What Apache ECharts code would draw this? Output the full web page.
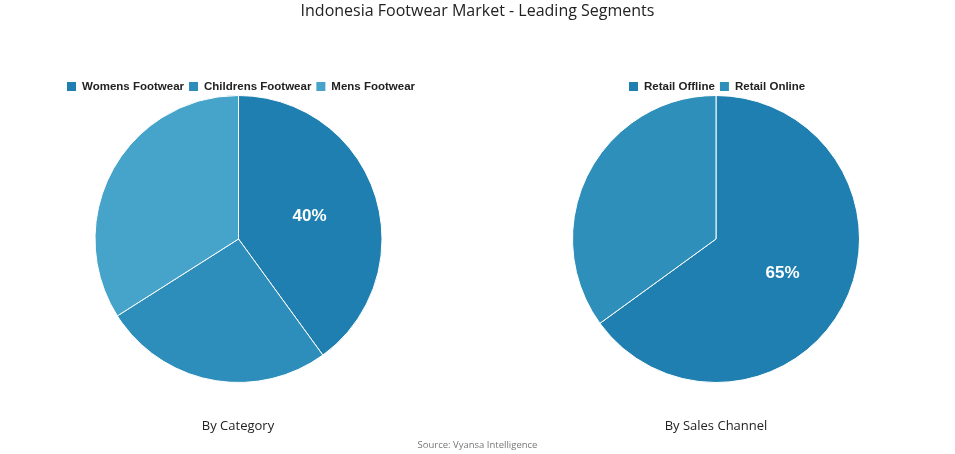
<!DOCTYPE html>
<html><head><meta charset="utf-8">
<script src="https://cdn.jsdelivr.net/npm/echarts@6/dist/echarts.min.js"></script>
<style>html,body{margin:0;padding:0;background:#fff}#c{width:955px;height:454px}</style>
</head><body><div id="c"></div>
<script>
const categoryNames = ['Womens Footwear', 'Childrens Footwear', 'Mens Footwear'];
const categoryValues = [40, 26, 34];
const channelNames = ['Retail Offline', 'Retail Online'];
const channelValues = [65, 35];
const categoryColors = ['#1f7fb0', '#2e8ebb', '#46a3c9'];
const channelColors = ['#1f7fb0', '#2f8fbb'];

const chart = echarts.init(document.getElementById('c'));
function mk(names, vals, colors) {
  return names.map((n, i) => ({
    name: n, value: vals[i], itemStyle: { color: colors[i] },
    label: { show: i === 0 }
  }));
}
const legendText = { fontFamily: 'Liberation Sans, Arial, sans-serif', fontWeight: 'bold', fontSize: 11.5, color: '#222' };
const sub = { fontFamily: 'Open Sans, sans-serif', fontWeight: 'normal', fontSize: 13, color: '#222' };
chart.setOption({
  animation: false,
  title: [
    { text: 'Indonesia Footwear Market - Leading Segments', left: 'center', top: -2,
      textStyle: { fontFamily: 'Open Sans, sans-serif', fontWeight: 'normal', fontSize: 16, color: '#222' } },
    { text: 'By Category', left: 233, top: 415, textAlign: 'center', textStyle: sub },
    { text: 'By Sales Channel', left: 711, top: 415, textAlign: 'center', textStyle: sub },
    { text: 'Source: Vyansa Intelligence', left: 'center', top: 435,
      textStyle: { fontFamily: 'Open Sans, sans-serif', fontWeight: 'normal', fontSize: 9.5, color: '#777' } }
  ],
  legend: [
    { data: categoryNames, left: 60, top: 75, itemWidth: 11, itemHeight: 11, itemGap: 3, icon: 'rect', textStyle: legendText },
    { data: channelNames, left: 622, top: 75, itemWidth: 11, itemHeight: 11, itemGap: 3, icon: 'rect', textStyle: legendText }
  ],
  series: [
    { type: 'pie', center: [238.5, 239], radius: 143.5, startAngle: 90, clockwise: true,
      data: mk(categoryNames, categoryValues, categoryColors),
      itemStyle: { borderColor: '#fff', borderWidth: 1 },
      label: { position: 'inside', formatter: '{c}%', color: '#fff', fontSize: 17, fontWeight: 'bold', fontFamily: 'Liberation Sans, Arial, sans-serif' },
      labelLine: { show: false }, emphasis: { disabled: true } },
    { type: 'pie', center: [716, 239], radius: 143.5, startAngle: 90, clockwise: true,
      data: mk(channelNames, channelValues, channelColors),
      itemStyle: { borderColor: '#fff', borderWidth: 1 },
      label: { position: 'inside', formatter: '{c}%', color: '#fff', fontSize: 17, fontWeight: 'bold', fontFamily: 'Liberation Sans, Arial, sans-serif' },
      labelLine: { show: false }, emphasis: { disabled: true } }
  ]
});
</script></body></html>
